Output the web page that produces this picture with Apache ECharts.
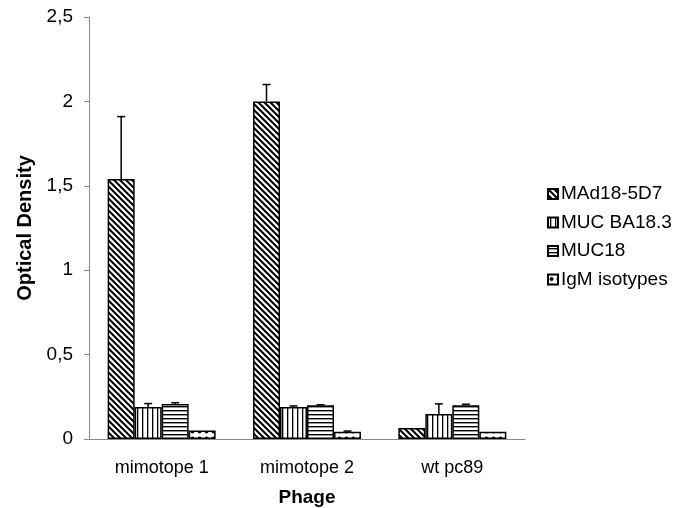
<!DOCTYPE html>
<html>
<head>
<meta charset="utf-8">
<script src="https://cdn.jsdelivr.net/npm/echarts@6/dist/echarts.min.js"></script>
<style>
  html, body { margin: 0; padding: 0; background: #fff; }
  #chart { width: 686px; height: 508px; }
</style>
</head>
<body>
<div id="chart"></div>
<script>
// data
const categories = ['mimotope 1', 'mimotope 2', 'wt pc89']
const seriesNames = ['MAd18-5D7', 'MUC BA18.3', 'MUC18', 'IgM isotypes']
const mad18 = [1.54, 2.0, 0.065]
const mucBa = [0.19, 0.19, 0.148]
const muc18 = [0.207, 0.2, 0.2]
const igm = [0.05, 0.043, 0.043]
// upper error amounts
const mad18Err = [0.37, 0.10, 0]
const mucBaErr = [0.02, 0.006, 0.06]
const muc18Err = [0.008, 0.003, 0.006]
const igmErr = [0, 0.004, 0]
const yTicks = [0, 0.5, 1, 1.5, 2, 2.5]

const values = [mad18, mucBa, muc18, igm]
const errors = [mad18Err, mucBaErr, muc18Err, igmErr]
const BAR_W = 27

function makeTile(size, draw) {
  const c = document.createElement('canvas')
  c.width = size
  c.height = size
  const ctx = c.getContext('2d')
  ctx.fillStyle = '#fff'
  ctx.fillRect(0, 0, size, size)
  ctx.strokeStyle = '#000'
  ctx.fillStyle = '#000'
  draw(ctx, size)
  return c
}

const patterns = [
  makeTile(6, (ctx, s) => {
    ctx.lineWidth = 2
    ctx.beginPath()
    ctx.moveTo(-1, -1); ctx.lineTo(s + 1, s + 1)
    ctx.moveTo(-1 - s, -1); ctx.lineTo(1, s + 1)
    ctx.moveTo(s - 1, -1); ctx.lineTo(2 * s + 1, s + 1)
    ctx.stroke()
  }),
  makeTile(5, (ctx, s) => {
    ctx.fillRect(2, 0, 1.3, s)
  }),
  makeTile(4, (ctx, s) => {
    ctx.fillRect(0, 2, s, 1.4)
  }),
  makeTile(7, (ctx, s) => {
    ctx.beginPath()
    ctx.arc(3.5, 4.5, 2, 0, Math.PI * 2)
    ctx.fill()
  })
]

const chart = echarts.init(document.getElementById('chart'))

const barSeries = seriesNames.map((name, i) => ({
  name,
  type: 'bar',
  data: values[i],
  barWidth: BAR_W,
  barGap: '0%',
  itemStyle: {
    color: { image: patterns[i], repeat: 'repeat' },
    borderColor: '#000',
    borderWidth: 1.5
  },
  emphasis: { disabled: true }
}))

const errSeries = seriesNames.map((name, i) => ({
  type: 'custom',
  name: name + ' err',
  z: 1,
  data: values[i].map((v, j) => [j, v, v + errors[i][j]]),
  renderItem(params, api) {
    const idx = api.value(0)
    const top = api.value(2)
    if (top - api.value(1) < 0.001) return null
    const base = api.coord([idx, api.value(1)])
    const hi = api.coord([idx, top])
    const x = base[0] + (i - 1.5) * BAR_W
    const style = { stroke: '#000', lineWidth: 1.5 }
    return {
      type: 'group',
      children: [
        { type: 'line', shape: { x1: x, y1: base[1], x2: x, y2: hi[1] }, style },
        { type: 'line', shape: { x1: x - 4, y1: hi[1], x2: x + 4, y2: hi[1] }, style }
      ]
    }
  }
}))

chart.setOption({
  animation: false,
  backgroundColor: '#fff',
  textStyle: { fontFamily: 'Liberation Sans, Arial, sans-serif' },
  grid: { left: 89, right: 161, top: 17, bottom: 69, outerBoundsMode: 'none' },
  legend: {
    data: seriesNames,
    orient: 'vertical',
    left: 542,
    top: 179,
    itemWidth: 10,
    itemHeight: 10,
    itemGap: 8.5,
    icon: 'rect',
    textStyle: { fontSize: 19, lineHeight: 20, color: '#000', padding: [0, 0, 0, -2] }
  },
  xAxis: {
    type: 'category',
    data: categories,
    name: 'Phage',
    nameLocation: 'middle',
    nameGap: 49,
    nameTextStyle: { fontSize: 19, fontWeight: 'bold', color: '#000' },
    axisLine: { lineStyle: { color: '#888', width: 1 } },
    axisTick: { length: 5, lineStyle: { color: '#888' } },
    axisLabel: { fontSize: 18, color: '#000', margin: 20 }
  },
  yAxis: {
    type: 'value',
    min: 0,
    max: 2.5,
    interval: 0.5,
    name: 'Optical Density',
    nameLocation: 'middle',
    nameGap: 52,
    nameTextStyle: { fontSize: 20, fontWeight: 'bold', color: '#000' },
    axisLine: { show: true, lineStyle: { color: '#888', width: 1 } },
    axisTick: { show: true, length: 5, lineStyle: { color: '#888' } },
    splitLine: { show: false },
    axisLabel: {
      fontSize: 19,
      color: '#000',
      margin: 16,
      formatter: v => yTicks.includes(v) ? String(v).replace('.', ',') : ''
    }
  },
  series: [...barSeries, ...errSeries]
})
</script>
</body>
</html>
